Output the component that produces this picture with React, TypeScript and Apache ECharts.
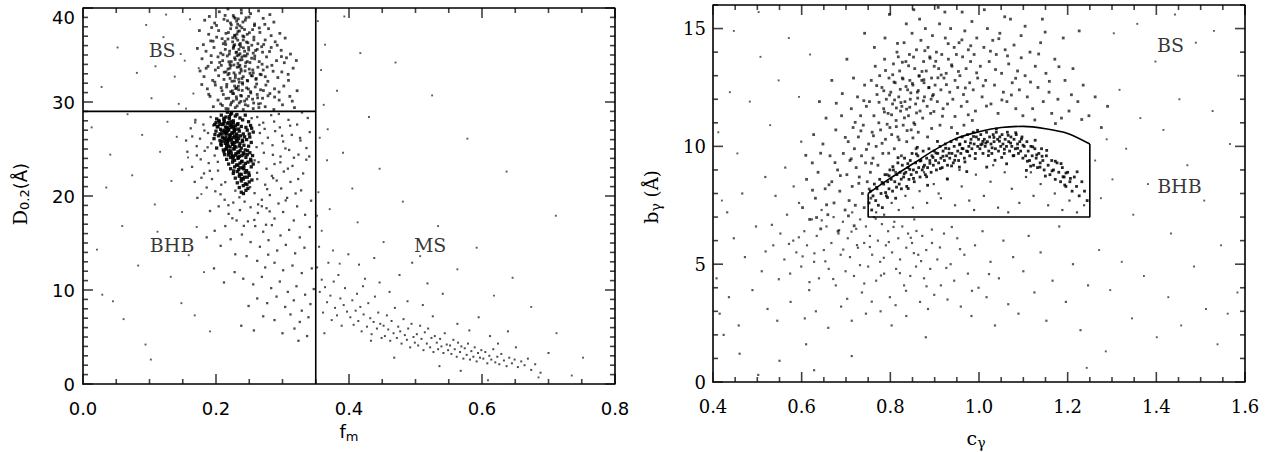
import React, { useEffect, useRef } from 'react';
import * as echarts from 'echarts';

// ---------- left panel: D0.2 against f_m ----------
const leftXTicks = [0, 0.2, 0.4, 0.6, 0.8];
const leftYTicks = [0, 10, 20, 30, 40];
const fmCut = 0.35;
const dCut = 29;

// dark BHB clump
const bhbCore = [
  [0.208,28.6],[0.215,28.4],[0.222,28.7],[0.229,28.5],[0.236,28.3],[0.244,28.6],[0.201,28.2],
  [0.205,27.9],[0.212,28.1],[0.219,27.8],[0.226,28.0],[0.233,27.7],[0.24,28.1],[0.249,27.9],[0.198,27.6],
  [0.203,27.4],[0.21,27.6],[0.216,27.3],[0.221,27.5],[0.227,27.2],[0.232,27.6],[0.238,27.4],[0.245,27.3],[0.252,27.5],
  [0.2,26.9],[0.207,27.1],[0.213,26.8],[0.218,27.0],[0.224,26.7],[0.229,27.1],[0.235,26.9],[0.241,26.6],[0.247,27.0],[0.256,26.8],
  [0.204,26.4],[0.209,26.6],[0.215,26.3],[0.22,26.5],[0.226,26.2],[0.231,26.6],[0.237,26.4],[0.243,26.3],[0.25,26.6],[0.197,26.1],
  [0.206,25.9],[0.212,26.1],[0.217,25.8],[0.223,26.0],[0.228,25.7],[0.234,26.1],[0.24,25.8],[0.246,26.0],[0.253,25.7],
  [0.208,25.4],[0.214,25.6],[0.219,25.3],[0.225,25.5],[0.23,25.2],[0.236,25.6],[0.242,25.4],[0.249,25.3],[0.201,25.1],
  [0.211,24.9],[0.216,25.1],[0.222,24.8],[0.227,25.0],[0.233,24.7],[0.238,25.1],[0.244,24.9],[0.251,24.6],
  [0.213,24.4],[0.219,24.6],[0.224,24.3],[0.23,24.5],[0.235,24.2],[0.241,24.6],[0.247,24.4],[0.255,24.3],
  [0.216,23.9],[0.222,24.1],[0.228,23.8],[0.233,24.0],[0.239,23.7],[0.245,24.1],[0.252,23.9],
  [0.219,23.4],[0.225,23.6],[0.231,23.3],[0.236,23.5],[0.242,23.2],[0.248,23.6],[0.256,23.4],
  [0.222,22.9],[0.228,23.1],[0.234,22.8],[0.24,23.0],[0.246,22.7],[0.253,23.1],
  [0.226,22.4],[0.232,22.6],[0.238,22.3],[0.244,22.5],[0.25,22.2],
  [0.229,21.9],[0.235,22.1],[0.241,21.8],[0.247,22.0],[0.254,21.7],
  [0.232,21.4],[0.238,21.6],[0.244,21.3],[0.25,21.5],
  [0.235,20.9],[0.241,21.1],[0.248,20.8],[0.238,20.4],[0.245,20.6],
  [0.211,27.7],[0.218,27.2],[0.223,27.9],[0.214,26.7],[0.221,26.2],[0.227,26.8],[0.209,25.8],[0.216,25.4],
  [0.224,25.7],[0.219,24.8],[0.226,24.2],[0.231,25.9],[0.213,27.0],[0.206,26.6],[0.225,27.4],[0.232,26.4],
  [0.22,28.2],[0.228,25.3],[0.217,26.9],[0.234,24.6],[0.239,24.3],[0.236,23.0],[0.243,22.0],[0.2,27.8],[0.212,24.7],
  [0.2143,27.34],[0.2218,26.47],[0.2087,26.93],[0.2261,27.81],[0.2176,25.62],[0.2304,26.18],[0.2229,24.57],[0.2119,28.27],[0.2352,25.31],[0.2193,27.06],
  [0.2271,25.03],[0.2058,27.62],[0.2336,24.09],[0.2245,26.71],[0.2162,26.04],[0.2387,23.64],[0.2213,25.21],[0.2291,27.47],[0.2135,25.87],[0.2418,22.88],
  [0.2202,28.43],[0.2318,25.77],[0.2254,23.92],[0.2096,26.24],[0.2363,24.81],[0.2187,24.36],[0.2279,26.39],[0.2441,23.47],[0.2124,27.91],[0.2341,27.12],
  [0.2236,27.59],[0.2156,26.66],[0.2297,24.34],[0.2398,25.94],[0.2071,25.54],[0.2266,22.67],[0.2329,23.28],[0.2205,26.12],[0.2423,24.46],[0.2148,24.98],
  [0.2381,21.87],[0.2465,21.22],[0.2413,20.26],[0.2492,22.46],[0.2356,22.31],[0.2527,23.73],[0.2474,24.82],[0.2508,26.27],[0.2536,27.21],[0.2019,27.34],
  [0.1984,26.53],[0.2043,28.04],[0.2234,28.81],[0.2314,28.66],[0.2171,28.92],[0.2257,25.49],[0.2189,25.93],[0.2278,26.96],[0.2227,27.29],[0.2168,27.74],
];

// BS cloud above the D0.2 cut
const bsCloud = [
  [0.205,39.6],[0.226,39.2],[0.238,39.8],[0.252,39.4],[0.264,39.7],[0.218,39.9],[0.281,39.3],[0.19,39.1],
  [0.198,38.4],[0.212,38.8],[0.223,38.2],[0.231,38.6],[0.236,38.1],[0.244,38.7],[0.258,38.3],[0.271,38.9],[0.287,38.5],[0.183,38.7],[0.229,38.9],
  [0.189,37.2],[0.204,37.6],[0.215,37.3],[0.222,37.8],[0.228,37.1],[0.233,37.5],[0.239,37.9],[0.247,37.2],[0.255,37.7],[0.266,37.4],[0.279,37.8],[0.296,37.3],[0.175,37.6],[0.231,37.9],
  [0.192,36.5],[0.201,36.9],[0.211,36.2],[0.218,36.7],[0.225,36.4],[0.23,36.8],[0.235,36.1],[0.241,36.6],[0.248,36.3],[0.257,36.9],[0.263,36.2],[0.274,36.6],[0.289,36.4],[0.304,36.8],[0.181,36.1],[0.227,36.0],
  [0.185,35.4],[0.197,35.8],[0.207,35.2],[0.214,35.6],[0.22,35.1],[0.226,35.7],[0.231,35.3],[0.237,35.9],[0.243,35.4],[0.249,35.8],[0.256,35.2],[0.262,35.6],[0.27,35.3],[0.283,35.8],[0.298,35.5],[0.312,35.1],[0.172,35.7],[0.234,35.0],
  [0.179,34.6],[0.193,34.2],[0.203,34.8],[0.21,34.4],[0.217,34.9],[0.223,34.3],[0.228,34.7],[0.233,34.1],[0.239,34.5],[0.245,34.9],[0.251,34.2],[0.258,34.6],[0.265,34.3],[0.276,34.8],[0.291,34.4],[0.306,34.7],[0.221,34.0],[0.247,34.3],
  [0.176,33.3],[0.188,33.8],[0.199,33.4],[0.208,33.9],[0.215,33.2],[0.221,33.6],[0.227,33.1],[0.232,33.7],[0.238,33.3],[0.244,33.8],[0.25,33.5],[0.256,33.1],[0.263,33.7],[0.271,33.4],[0.284,33.9],[0.299,33.2],[0.316,33.6],[0.236,33.9],[0.218,33.5],
  [0.182,32.7],[0.195,32.3],[0.204,32.8],[0.212,32.4],[0.218,32.9],[0.224,32.2],[0.229,32.6],[0.235,32.1],[0.241,32.7],[0.247,32.3],[0.253,32.8],[0.26,32.4],[0.268,32.9],[0.278,32.2],[0.293,32.6],[0.309,32.3],[0.239,32.5],
  [0.187,31.4],[0.199,31.8],[0.209,31.2],[0.216,31.6],[0.222,31.1],[0.228,31.7],[0.234,31.3],[0.24,31.9],[0.246,31.5],[0.252,31.1],[0.259,31.6],[0.267,31.3],[0.275,31.8],[0.288,31.4],[0.302,31.7],[0.322,31.2],[0.231,31.5],
  [0.191,30.6],[0.203,30.2],[0.211,30.8],[0.219,30.4],[0.225,30.9],[0.231,30.3],[0.237,30.7],[0.243,30.1],[0.249,30.6],[0.255,30.3],[0.262,30.8],[0.27,30.4],[0.281,30.9],[0.295,30.2],[0.311,30.6],[0.226,30.1],
  [0.196,29.5],[0.207,29.8],[0.215,29.3],[0.222,29.7],[0.229,29.4],[0.235,29.9],[0.241,29.2],[0.248,29.6],[0.256,29.3],[0.264,29.8],[0.274,29.5],[0.287,29.2],[0.3,29.7],[0.318,29.4],
  [0.2137,36.43],[0.2291,32.87],[0.2472,35.12],[0.2384,30.64],[0.2193,34.28],[0.2553,33.41],[0.2326,38.27],[0.2419,36.95],[0.2078,31.53],[0.2265,35.86],
  [0.2611,31.92],[0.2357,33.08],[0.2174,38.64],[0.2502,37.37],[0.2441,29.71],[0.2246,31.19],[0.2389,34.79],[0.2693,34.02],[0.2034,33.66],[0.2318,29.58],
  [0.2476,32.24],[0.2151,30.37],[0.2284,37.04],[0.2595,35.48],[0.2367,36.22],[0.2212,32.51],[0.2523,30.96],[0.2405,38.51],[0.2106,35.03],[0.2741,32.69],
  [0.2269,33.94],[0.2448,34.17],[0.2336,31.68],[0.2187,37.39],[0.2569,36.61],[0.2398,32.06],[0.2123,33.17],[0.2651,37.88],[0.2301,35.27],[0.2487,31.38],
  [0.2233,29.94],[0.2429,37.71],[0.2162,31.87],[0.2536,34.66],[0.2345,35.59],[0.2092,36.74],[0.2626,30.45],[0.2374,33.52],[0.2251,36.84],[0.2462,30.31],
  [0.1983,32.11],[0.2859,33.27],[0.2717,36.12],[0.1927,34.93],[0.2948,31.06],[0.2805,35.37],[0.1891,30.82],[0.3027,34.18],[0.2782,30.66],[0.1956,36.47],
  [0.2358,34.47],[0.2224,33.86],[0.2412,35.77],[0.2296,31.42],[0.2511,33.06],[0.2353,37.56],[0.2205,35.41],[0.2437,33.31],[0.2318,34.92],[0.2394,31.23],
  [0.2281,36.09],[0.2459,36.38],[0.2341,32.43],[0.2265,30.89],[0.2547,32.78],[0.2373,30.07],[0.2197,33.04],[0.2423,34.91],[0.2315,37.22],[0.2492,35.54],
  [0.2663,32.95],[0.2578,38.13],[0.2137,39.21],[0.2496,39.03],[0.2734,38.26],[0.2921,36.04],[0.3085,32.94],[0.2881,30.53],[0.2645,29.41],[0.2096,29.63],
  [0.1852,33.59],[0.1786,31.86],[0.2008,38.14],[0.2218,38.41],[0.2583,34.89],[0.2769,33.73],[0.2687,35.88],[0.2538,36.04],[0.2604,32.51],[0.2452,38.96],
  [0.2056,34.21],[0.1935,37.92],[0.2829,37.06],[0.2984,34.83],[0.2713,31.22],[0.2566,29.89],[0.2146,36.12],[0.2183,29.27],[0.3147,30.09],[0.3208,34.41],
  [0.2382,39.47],[0.2271,39.02],[0.2327,36.58],[0.2344,33.76],[0.2306,30.55],[0.2289,34.53],[0.2361,35.13],[0.2276,32.24],[0.2403,37.02],[0.2335,38.84],
];

// looser halo around the clumps and the BHB spill below
const leftHalo = [
  [0.262,28.4],[0.271,27.8],[0.283,28.6],[0.296,27.3],[0.309,28.1],[0.322,27.6],[0.338,28.3],
  [0.266,26.7],[0.278,26.2],[0.289,26.9],[0.301,25.8],[0.314,26.5],[0.327,25.9],[0.341,26.8],
  [0.261,25.2],[0.272,24.6],[0.285,25.4],[0.297,24.2],[0.31,24.9],[0.324,24.4],[0.336,25.1],
  [0.264,23.6],[0.276,22.9],[0.288,23.4],[0.302,22.6],[0.315,23.2],[0.331,22.4],
  [0.262,21.8],[0.274,21.2],[0.286,21.9],[0.298,20.8],[0.312,21.5],[0.328,20.6],
  [0.258,20.3],[0.269,19.6],[0.281,20.1],[0.294,19.2],[0.307,19.8],[0.322,18.9],[0.343,19.5],
  [0.252,18.8],[0.263,18.2],[0.276,18.7],[0.288,17.6],[0.301,18.3],[0.317,17.4],[0.334,18.0],
  [0.243,19.4],[0.236,18.5],[0.248,17.3],[0.259,16.8],[0.271,16.2],[0.284,16.9],[0.297,15.8],[0.31,16.4],[0.326,15.6],[0.341,16.7],
  [0.239,15.9],[0.252,15.1],[0.266,14.6],[0.279,15.3],[0.292,14.2],[0.305,14.8],[0.319,13.9],[0.333,14.5],
  [0.246,13.6],[0.262,13.1],[0.274,12.4],[0.288,12.9],[0.301,12.1],[0.315,12.6],[0.329,11.8],[0.344,12.3],
  [0.192,28.4],[0.181,27.6],[0.169,28.1],[0.188,26.7],[0.176,26.1],[0.162,27.2],[0.193,25.6],[0.183,24.8],[0.171,25.3],[0.155,25.9],
  [0.198,24.3],[0.189,23.5],[0.177,23.9],[0.164,23.1],[0.203,22.7],[0.194,21.8],[0.182,22.4],[0.168,21.5],[0.149,22.8],[0.208,21.2],
  [0.199,20.5],[0.186,20.9],[0.172,19.8],[0.213,19.6],[0.204,18.9],[0.191,18.4],[0.219,18.1],[0.226,19.3],[0.231,17.4],[0.214,16.8],
  [0.198,16.3],[0.222,15.4],[0.207,14.7],[0.229,13.8],[0.186,15.6],
  [0.228,11.9],[0.241,11.2],[0.256,10.6],[0.269,11.4],[0.283,10.2],[0.296,10.9],[0.308,9.8],[0.321,10.4],[0.334,9.5],[0.347,10.1],
  [0.262,9.1],[0.277,8.6],[0.291,9.3],[0.304,8.2],[0.317,8.9],[0.329,7.8],[0.342,8.5],[0.249,8.3],
  [0.271,7.2],[0.288,6.8],[0.312,7.4],[0.326,6.6],[0.339,7.1],[0.3,5.4],[0.318,5.9],[0.337,5.1],[0.324,4.6],
  [0.238,6.2],[0.257,5.7],[0.212,10.8],[0.197,12.3],
  [0.2731,27.14],[0.2856,24.38],[0.2618,22.47],[0.2994,26.41],[0.3172,24.07],[0.2769,20.73],[0.3081,22.91],[0.2652,27.56],[0.2913,21.64],[0.3264,26.18],
  [0.2807,18.36],[0.2581,23.79],[0.3048,19.53],[0.2697,25.61],[0.3197,20.27],[0.2874,27.92],[0.2634,19.11],[0.2968,23.58],[0.3358,23.86],[0.2752,16.94],
  [0.1826,26.97],[0.1712,24.32],[0.1907,22.68],[0.1643,26.34],[0.1958,27.51],[0.1781,21.94],[0.1569,24.71],[0.1874,25.18],[0.2027,23.63],[0.1687,27.83],
  [0.2139,21.47],[0.2068,20.18],[0.2291,20.57],[0.2187,19.02],[0.2352,19.86],[0.2246,17.63],[0.2419,16.82],[0.2513,20.94],[0.2576,17.45],[0.2689,18.91],
  [0.2841,22.14],[0.3115,27.48],[0.2945,28.73],[0.3293,28.89],[0.3402,24.21],[0.2536,28.28],[0.2673,29.85],[0.3044,25.06],[0.3236,21.81],[0.2785,13.76],
];

// isolated stars
const leftField = [
  [0.013,27.3],[0.028,31.6],[0.041,24.4],[0.035,20.9],[0.052,35.8],[0.067,28.7],[0.074,22.2],[0.081,33.1],[0.089,26.5],[0.095,38.2],
  [0.103,30.4],[0.108,19.1],[0.116,24.7],[0.121,36.9],[0.127,27.9],[0.133,21.6],[0.138,32.7],[0.144,29.8],[0.149,18.3],[0.153,34.4],
  [0.158,24.1],[0.161,38.8],[0.166,30.9],[0.171,16.7],[0.174,33.6],[0.178,20.2],[0.045,8.8],[0.029,9.5],[0.061,6.9],[0.083,12.6],
  [0.094,4.2],[0.112,16.2],[0.132,11.4],[0.148,8.6],[0.159,13.7],[0.168,7.3],[0.182,11.9],[0.191,5.6],[0.059,16.8],[0.021,14.3],
  [0.102,2.6],[0.155,29.3],[0.147,35.1],[0.125,39.3],[0.109,33.8],[0.141,26.3],
  [0.353,38.6],[0.358,33.4],[0.362,29.7],[0.356,26.2],[0.367,23.8],[0.354,20.4],[0.371,18.6],[0.359,16.3],[0.376,14.2],[0.364,36.1],
  [0.382,31.2],[0.352,17.9],[0.368,27.1],[0.391,24.6],[0.405,20.8],[0.417,35.2],[0.43,28.4],[0.386,12.8],
  [0.413,17.2],[0.452,15.1],[0.481,19.4],[0.507,13.6],[0.534,16.8],[0.563,12.2],[0.592,14.5],[0.618,9.4],[0.646,11.3],[0.674,8.2],
  [0.712,5.4],[0.735,0.9],[0.752,2.8],[0.711,17.9],[0.637,22.6],[0.578,26.1],[0.525,30.7],[0.47,34.2],[0.446,22.9],[0.393,39.1],
  [0.685,0.7],[0.609,0.4],
];

// main-sequence tail
const msTail = [
  [0.352,12.4],[0.356,9.8],[0.359,11.1],[0.361,7.6],[0.364,10.3],[0.367,8.7],[0.369,12.9],[0.372,9.4],[0.374,6.8],[0.377,10.9],
  [0.379,8.1],[0.382,7.3],[0.384,11.6],[0.387,9.1],[0.389,6.2],[0.392,8.4],[0.394,10.2],[0.397,7.7],[0.399,13.8],[0.355,14.6],[0.363,5.4],
  [0.402,7.1],[0.405,8.9],[0.407,6.3],[0.41,7.8],[0.412,9.6],[0.414,6.7],[0.417,8.2],[0.419,5.6],[0.422,7.4],[0.424,11.2],
  [0.427,6.1],[0.429,8.6],[0.432,7.0],[0.434,5.3],[0.437,6.6],[0.439,9.3],[0.442,5.9],[0.444,7.6],[0.447,6.4],[0.449,4.9],
  [0.415,12.7],[0.438,13.4],[0.421,10.4],[0.446,10.8],[0.433,4.6],
  [0.452,6.2],[0.454,5.1],[0.457,7.3],[0.459,5.8],[0.462,4.6],[0.464,6.7],[0.467,5.4],[0.469,8.1],[0.472,4.9],[0.474,6.1],
  [0.477,5.6],[0.479,4.3],[0.482,6.9],[0.484,5.2],[0.487,4.7],[0.489,5.9],[0.492,3.9],[0.494,6.4],[0.497,5.0],[0.499,4.4],
  [0.461,9.8],[0.476,11.6],[0.488,8.8],[0.495,12.9],[0.468,2.8],
  [0.502,5.3],[0.504,4.1],[0.507,6.2],[0.509,4.8],[0.512,3.6],[0.514,5.5],[0.517,4.3],[0.519,5.9],[0.522,3.9],[0.524,4.9],
  [0.527,3.4],[0.529,5.1],[0.532,4.4],[0.534,3.7],[0.537,4.8],[0.539,4.0],[0.542,3.3],[0.544,5.4],[0.547,4.2],[0.549,3.6],
  [0.511,8.4],[0.526,7.2],[0.541,9.6],[0.518,10.7],[0.536,1.9],
  [0.552,4.1],[0.554,3.2],[0.557,4.7],[0.559,3.7],[0.562,2.9],[0.564,4.4],[0.567,3.4],[0.569,4.0],[0.572,2.7],[0.574,3.8],
  [0.577,3.1],[0.579,4.3],[0.582,2.6],[0.584,3.5],[0.587,2.9],[0.589,3.9],[0.592,2.4],[0.594,3.3],[0.597,2.8],[0.599,3.6],
  [0.563,6.4],[0.581,5.7],[0.568,1.4],[0.595,7.1],
  [0.602,2.7],[0.605,3.4],[0.608,2.2],[0.611,3.0],[0.614,2.6],[0.617,3.7],[0.62,2.3],[0.623,2.9],[0.626,2.1],[0.629,3.2],
  [0.633,2.5],[0.637,1.9],[0.641,2.8],[0.645,2.2],[0.649,2.6],[0.654,1.8],[0.659,2.4],[0.664,2.0],[0.669,2.7],[0.674,1.5],
  [0.68,2.1],[0.612,5.1],[0.624,4.3],[0.639,5.6],[0.651,3.9],[0.688,1.2],[0.7,3.3],
];

const leftTags = [
  { name: 'BS', value: [0.119, 35.5] },
  { name: 'BHB', value: [0.134, 14.8] },
  { name: 'MS', value: [0.522, 14.8] },
];

// ---------- right panel: b_gamma against c_gamma ----------
const rightXTicks = [0.4, 0.6, 0.8, 1.0, 1.2, 1.4, 1.6];
const rightYTicks = [0, 5, 10, 15];
const rightYMax = 16;

// broad BS band
const bsBand = [
  [0.602,7.4],[0.611,8.6],[0.618,6.9],[0.624,9.3],[0.631,7.8],[0.637,8.9],[0.643,6.5],[0.648,10.1],[0.653,8.2],[0.659,7.1],
  [0.664,9.6],[0.668,8.5],[0.673,7.6],[0.677,10.7],[0.681,9.0],[0.686,8.1],[0.69,11.3],[0.694,9.7],[0.698,7.3],[0.655,11.2],[0.627,10.5],[0.682,6.4],
  [0.702,8.8],[0.705,10.2],[0.707,7.7],[0.709,9.4],[0.712,11.6],[0.714,8.3],[0.716,10.8],[0.719,9.9],[0.721,7.5],[0.723,9.1],
  [0.726,12.1],[0.728,10.4],[0.73,8.7],[0.733,11.3],[0.735,9.6],[0.737,8.0],[0.739,10.9],[0.742,12.6],[0.744,9.3],[0.746,11.7],[0.748,8.5],[0.717,12.9],[0.741,7.4],
  [0.751,10.1],[0.753,11.9],[0.755,8.9],[0.757,12.8],[0.759,10.6],[0.761,9.5],[0.763,11.3],[0.766,13.4],[0.768,10.0],[0.77,12.2],
  [0.772,9.2],[0.774,11.0],[0.776,13.0],[0.778,10.7],[0.781,12.5],[0.783,9.7],[0.785,11.6],[0.787,13.7],[0.789,10.3],[0.791,12.0],
  [0.793,8.8],[0.795,11.4],[0.797,12.9],[0.799,10.8],[0.764,14.2],[0.788,14.6],[0.756,7.8],
  [0.801,12.3],[0.803,10.5],[0.805,11.8],[0.807,13.5],[0.809,9.9],[0.811,12.7],[0.813,11.1],[0.815,14.0],[0.817,10.4],[0.819,12.1],
  [0.821,13.2],[0.823,11.5],[0.825,9.6],[0.827,12.9],[0.829,10.9],[0.831,14.4],[0.833,11.9],[0.835,13.6],[0.837,10.2],[0.839,12.4],
  [0.841,11.3],[0.843,13.9],[0.845,12.0],[0.847,10.7],[0.849,14.8],[0.812,8.9],[0.836,15.2],[0.826,11.7],[0.844,12.8],[0.818,13.8],
  [0.851,12.6],[0.853,11.0],[0.855,13.3],[0.857,11.8],[0.859,14.1],[0.861,12.3],[0.863,10.6],[0.865,13.0],[0.867,11.5],[0.869,14.5],
  [0.871,12.8],[0.873,11.2],[0.875,13.6],[0.877,12.1],[0.879,15.0],[0.881,13.2],[0.883,11.7],[0.885,14.2],[0.887,12.5],[0.889,13.8],
  [0.891,11.4],[0.893,12.9],[0.895,14.7],[0.897,12.2],[0.899,13.4],[0.858,9.9],[0.884,10.4],[0.866,15.4],[0.876,12.7],[0.892,12.0],
  [0.901,12.6],[0.904,14.0],[0.906,11.9],[0.909,13.3],[0.911,15.2],[0.914,12.4],[0.916,13.9],[0.919,11.6],[0.921,12.9],[0.924,14.6],
  [0.926,13.1],[0.929,11.8],[0.931,13.7],[0.934,12.3],[0.936,15.0],[0.939,13.4],[0.941,12.0],[0.944,14.2],[0.946,12.8],[0.949,13.9],
  [0.912,10.9],[0.938,10.8],[0.923,15.7],
  [0.952,12.5],[0.955,14.4],[0.957,13.0],[0.96,11.7],[0.963,13.8],[0.965,12.2],[0.968,14.9],[0.971,13.3],[0.973,11.9],[0.976,14.1],
  [0.979,12.7],[0.981,13.6],[0.984,15.3],[0.987,12.4],[0.989,13.9],[0.992,11.5],[0.995,14.6],[0.997,12.9],[0.966,10.9],[0.985,11.1],
  [1.003,13.4],[1.007,12.1],[1.011,14.2],[1.015,12.8],[1.019,15.0],[1.023,13.6],[1.027,11.8],[1.031,14.5],[1.035,12.6],[1.039,13.9],
  [1.043,11.4],[1.047,14.8],[1.051,13.1],[1.055,12.3],[1.059,14.1],[1.063,11.9],[1.067,13.5],[1.071,15.4],[1.075,12.7],[1.079,14.3],
  [1.083,11.6],[1.087,13.2],[1.091,12.4],[1.095,14.7],[1.099,11.3],
  [1.104,13.0],[1.109,12.1],[1.115,14.0],[1.121,11.6],[1.127,13.4],[1.133,12.5],[1.139,14.4],[1.145,11.9],[1.151,13.1],[1.158,12.3],
  [1.164,11.4],[1.171,13.7],[1.178,12.0],[1.186,11.2],[1.194,12.8],[1.203,11.5],[1.212,13.3],[1.223,11.9],[1.235,12.6],[1.248,11.3],
  [1.262,12.1],[1.276,10.8],[1.29,11.7],
  [0.742,14.8],[0.798,15.6],[0.853,15.8],[0.908,15.9],[0.962,15.7],[1.012,15.8],[1.058,15.5],[1.104,15.1],[1.143,15.4],[1.19,14.6],
  [1.226,14.9],[0.702,13.7],[0.668,12.8],[0.64,11.9],
  [0.8137,11.63],[0.8462,12.27],[0.7928,10.94],[0.8714,13.18],[0.8286,12.86],[0.8591,11.42],[0.7745,11.87],[0.8869,12.49],[0.8053,13.04],[0.8378,10.67],
  [0.9024,13.61],[0.7852,12.36],[0.8523,13.79],[0.8197,10.28],[0.8746,11.93],[0.7619,10.45],[0.8951,12.14],[0.8318,11.21],[0.8083,12.73],[0.8648,12.98],
  [0.7963,9.71],[0.9147,13.03],[0.8412,13.42],[0.7814,10.13],[0.8779,14.06],[0.8239,11.86],[0.8552,10.93],[0.7692,12.58],[0.9265,12.62],[0.8028,11.34],
  [0.8896,13.74],[0.8354,12.54],[0.7891,13.22],[0.8617,12.05],[0.8162,14.37],[0.9382,13.46],[0.7576,9.28],[0.8437,11.66],[0.8983,11.48],[0.8271,13.57],
  [0.7336,10.66],[0.7461,9.87],[0.7207,11.02],[0.7118,9.47],[0.6984,10.38],[0.6873,8.76],[0.7289,8.43],[0.7523,8.19],[0.6752,9.31],[0.7402,11.94],
  [0.9536,13.18],[0.9692,12.48],[0.9813,14.27],[0.9947,13.12],[1.0094,12.57],[1.0258,14.04],[1.0372,13.26],[1.0516,11.97],[1.0643,13.84],[1.0827,12.89],
  [0.9614,14.52],[0.9758,11.34],[1.0168,11.71],[1.0447,14.57],[1.0731,12.18],[0.9459,11.27],[0.9305,14.36],[0.9176,11.28],[0.9073,12.91],[0.8932,10.76],
  [0.8095,11.97],[0.8224,12.42],[0.8367,11.58],[0.8498,12.67],[0.8631,12.37],[0.8756,12.83],[0.7983,12.18],[0.8135,10.84],[0.7866,11.46],[0.8509,10.36],
  [0.6617,8.37],[0.6428,9.71],[0.6245,8.14],[0.6781,11.83],[0.6093,9.62],[0.6336,6.98],[0.6562,7.52],[0.7055,7.05],[0.7184,6.63],[0.6917,12.24],
  [1.1162,12.73],[1.1346,13.92],[1.1587,12.76],[1.1803,13.38],[1.2085,12.19],[1.1259,11.12],[1.1724,10.97],[1.2317,11.14],[1.1492,14.85],[1.0953,13.76],
];

// narrow BHB arc inside the selection box
const bhbArc = [
  [0.752,7.6],[0.755,8.1],[0.758,7.3],[0.761,7.9],[0.764,8.4],[0.767,7.7],[0.77,8.2],[0.773,7.5],[0.776,8.6],[0.779,8.0],
  [0.782,7.4],[0.785,8.4],[0.788,8.8],[0.791,7.9],[0.794,8.5],[0.797,8.2],[0.799,9.0],
  [0.802,8.6],[0.805,8.1],[0.807,9.0],[0.81,8.5],[0.812,7.8],[0.815,8.8],[0.817,9.3],[0.82,8.4],[0.822,8.9],[0.825,8.2],
  [0.827,9.2],[0.83,8.7],[0.832,9.5],[0.835,8.9],[0.837,8.3],[0.84,9.1],[0.842,8.6],[0.845,9.4],[0.847,8.8],[0.849,9.7],
  [0.852,9.0],[0.854,8.5],[0.857,9.3],[0.859,8.9],[0.862,9.6],[0.864,9.1],[0.867,8.7],[0.869,9.4],[0.872,9.0],[0.874,9.8],
  [0.877,9.2],[0.879,8.8],[0.882,9.5],[0.884,9.1],[0.887,9.9],[0.889,9.4],[0.892,8.9],[0.894,9.6],[0.897,9.2],[0.899,9.8],
  [0.902,9.4],[0.904,9.0],[0.907,9.7],[0.909,9.3],[0.912,10.0],[0.914,9.5],[0.917,9.1],[0.919,9.8],[0.922,9.4],[0.924,10.1],
  [0.927,9.6],[0.929,9.2],[0.932,9.9],[0.934,9.5],[0.937,10.2],[0.939,9.7],[0.942,9.3],[0.944,10.0],[0.947,9.6],[0.949,10.3],
  [0.952,9.8],[0.954,9.4],[0.957,10.1],[0.959,9.7],[0.962,10.4],[0.964,9.9],[0.967,9.5],[0.969,10.2],[0.972,9.8],[0.974,10.5],
  [0.977,10.0],[0.979,9.6],[0.982,10.3],[0.984,9.9],[0.987,10.6],[0.989,10.1],[0.992,9.7],[0.994,10.4],[0.997,10.0],[0.999,10.3],
  [1.002,9.9],[1.004,10.5],[1.007,10.1],[1.009,9.7],[1.012,10.3],[1.014,10.0],[1.017,10.6],[1.019,10.2],[1.022,9.8],[1.024,10.4],
  [1.027,10.1],[1.029,9.7],[1.032,10.5],[1.034,10.2],[1.037,9.9],[1.039,10.6],[1.042,10.3],[1.044,9.8],[1.047,10.4],[1.049,10.0],
  [1.052,10.5],[1.054,10.1],[1.057,9.7],[1.059,10.3],[1.062,10.0],[1.064,10.6],[1.067,10.2],[1.069,9.8],[1.072,10.4],[1.074,10.0],
  [1.077,9.6],[1.079,10.3],[1.082,9.9],[1.084,10.5],[1.087,10.1],[1.089,9.7],[1.092,10.2],[1.094,9.8],[1.097,10.4],[1.099,9.5],
  [1.102,10.0],[1.105,9.6],[1.108,10.2],[1.111,9.8],[1.114,9.4],[1.117,10.0],[1.12,9.6],[1.123,9.2],[1.126,9.9],[1.129,9.5],
  [1.132,9.1],[1.135,9.7],[1.138,9.3],[1.141,9.9],[1.144,9.4],[1.147,9.0],
  [1.152,9.6],[1.156,9.2],[1.16,8.8],[1.164,9.4],[1.168,9.0],[1.172,8.6],[1.176,9.3],[1.18,8.9],[1.184,8.5],[1.188,9.1],
  [1.192,8.7],[1.196,8.3],[1.2,8.9],[1.205,8.5],[1.21,8.1],[1.215,8.7],[1.22,8.3],[1.226,7.9],[1.232,8.5],[1.238,8.1],[1.244,7.7],
  [0.7813,8.47],[0.8246,8.61],[0.8671,9.38],[0.9128,9.06],[0.9563,10.07],[0.9914,9.48],[1.0337,10.38],[1.0785,9.61],[1.1213,9.98],[1.1648,8.96],
  [0.7936,7.83],[0.8394,9.27],[0.8819,8.71],[0.9246,9.92],[0.9682,9.34],[1.0086,10.21],[1.0512,9.53],[1.0957,10.31],[1.1376,9.12],[1.1851,9.27],
  [0.8057,9.14],[0.8523,8.64],[0.8962,9.53],[0.9381,9.17],[0.9807,10.14],[1.0213,9.61],[1.0658,10.47],[1.1092,9.37],[1.1527,9.83],[1.2062,8.64],
  [0.7689,8.26],[0.8139,8.27],[0.8587,9.68],[0.9031,9.72],[0.9452,9.41],[0.9876,10.42],[1.0296,9.94],[1.0714,10.14],[1.1164,9.16],[1.1962,8.87],
  [0.8312,8.84],[0.8746,9.12],[0.9187,9.58],[0.9618,9.91],[1.0041,10.07],[1.0461,10.22],[1.0872,9.92],[1.1302,9.64],[1.1721,9.37],[1.2213,8.92],
  [0.7972,8.75],[0.8438,9.02],[0.8893,9.28],[0.9327,9.71],[0.9745,9.78],[1.0153,10.14],[1.0573,9.88],[1.0994,10.05],[1.1423,9.58],[1.1896,8.71],
  [0.8174,9.52],[0.8608,9.96],[0.9063,10.21],[0.9512,10.55],[0.9967,10.68],[1.0392,10.74],[1.0829,10.58],[1.1267,10.26],[0.8841,8.35],[0.9285,8.62],
  [0.9724,8.93],[1.0174,9.12],[1.0623,9.26],[1.1069,8.98],[1.1497,8.74],[1.1934,8.36],[0.8402,8.21],[0.7894,8.04],[0.9558,9.12],[1.0361,9.41],
];

// thinner spread below the arc, inside the box
const boxFill = [
  [0.768,7.2],[0.786,7.1],[0.803,7.6],[0.819,7.3],[0.834,7.9],[0.851,7.4],[0.866,8.1],[0.883,7.6],[0.898,8.4],[0.914,7.8],
  [0.929,8.6],[0.946,7.5],[0.961,8.3],[0.978,7.7],[0.993,8.8],[1.011,7.9],[1.026,8.5],[1.043,7.4],[1.058,8.9],[1.074,8.2],
  [1.091,7.6],[1.106,8.7],[1.123,7.9],[1.139,8.4],[1.156,7.5],[1.171,8.0],[1.188,7.3],[1.204,7.7],[1.221,7.2],[1.237,7.5],
  [0.876,8.9],[0.956,9.0],[1.032,9.2],[1.117,8.9],[0.909,8.0],[0.989,7.3],[1.066,7.2],
];

// diffuse cloud under the box
const lowerCloud = [
  [0.552,6.3],[0.561,5.2],[0.567,7.1],[0.574,4.6],[0.581,6.0],[0.588,5.5],[0.594,7.6],[0.599,4.9],[0.606,6.4],[0.612,5.8],
  [0.617,3.9],[0.623,6.9],[0.628,5.1],[0.634,6.2],[0.639,4.4],[0.645,7.3],[0.65,5.6],[0.656,6.6],[0.661,4.8],[0.667,5.9],
  [0.672,7.0],[0.677,4.1],[0.683,6.3],[0.688,5.4],[0.693,6.8],[0.699,4.7],
  [0.704,6.1],[0.709,5.3],[0.714,7.2],[0.718,4.5],[0.723,6.5],[0.727,5.7],[0.732,6.9],[0.736,3.8],[0.741,5.9],[0.745,6.6],
  [0.75,4.9],[0.754,6.2],[0.759,5.4],[0.763,7.0],[0.768,4.3],[0.772,6.0],[0.777,5.1],[0.781,6.7],[0.786,4.6],[0.79,5.8],
  [0.795,6.4],[0.799,3.6],
  [0.804,5.5],[0.809,6.8],[0.813,4.8],[0.818,6.1],[0.822,5.2],[0.827,6.6],[0.831,4.1],[0.836,5.7],[0.84,6.3],[0.845,4.5],
  [0.849,5.9],[0.854,6.9],[0.858,4.9],[0.863,5.4],[0.867,3.4],[0.872,6.2],[0.876,4.4],[0.881,5.6],[0.885,3.1],[0.89,4.8],
  [0.894,5.9],[0.899,3.7],
  [0.906,5.2],[0.914,4.1],[0.921,6.3],[0.929,3.5],[0.936,5.0],[0.944,4.3],[0.951,6.1],[0.959,3.2],[0.967,5.4],[0.975,4.6],
  [0.983,2.8],[0.991,5.8],[0.999,4.0],[1.008,6.4],[1.017,3.6],[1.026,5.1],[1.036,2.4],[1.045,4.4],[1.055,6.0],[1.066,3.3],
  [1.077,5.3],[1.089,2.9],[1.1,4.7],[1.112,6.2],[1.125,3.8],[1.139,5.5],[1.152,2.6],[1.166,4.3],[1.181,6.6],[1.196,3.4],
  [1.212,5.0],[1.229,2.2],[1.246,4.1],
  [0.51,4.7],[0.523,3.1],[0.536,5.8],[0.545,2.6],[0.489,3.9],[0.472,5.3],[0.458,2.4],[0.447,6.1],[0.436,3.6],[0.424,2.0],
  [0.415,2.9],[0.408,4.4],[0.432,7.2],[0.466,8.0],[0.497,6.6],[0.518,8.7],[0.541,7.9],[0.563,9.1],[0.582,8.3],[0.599,10.2],
  [0.575,3.4],[0.607,2.7],[0.632,3.0],[0.66,2.3],[0.689,3.2],[0.713,2.6],[0.745,2.9],[0.778,3.0],[0.803,2.4],[0.836,2.8],
  [0.88,1.9],[0.61,1.6],[0.713,1.1],[0.55,0.9],[0.628,0.5],[0.46,1.2],[0.502,0.3],
  [0.6287,5.46],[0.7124,6.38],[0.7853,5.27],[0.8461,6.12],[0.6712,4.37],[0.7539,5.73],[0.8216,4.62],[0.8937,6.47],[0.6453,6.86],[0.7316,4.96],
  [0.8072,6.58],[0.8694,5.13],[0.5936,6.14],[0.6938,5.62],[0.7671,6.93],[0.8354,3.87],[0.9118,5.71],[0.6176,4.24],[0.7412,4.18],[0.8589,6.41],
  [0.7027,3.53],[0.7789,4.52],[0.6534,5.12],[0.9263,4.84],[0.8816,4.06],[0.7248,5.81],[0.6021,5.33],[0.7966,5.94],[0.8531,5.47],[0.9387,6.58],
  [0.5714,5.86],[0.5485,4.36],[0.5328,6.67],[0.5187,5.54],[0.6845,6.44],[0.7581,3.41],[0.8119,3.26],[0.9572,5.64],[0.9841,3.87],[1.0226,4.58],
];

const rightField = [
  [1.262,9.4],[1.275,7.8],[1.288,10.3],[1.301,8.6],[1.317,12.4],[1.332,9.9],[1.348,7.1],[1.364,11.2],[1.381,8.4],[1.398,13.6],
  [1.416,10.7],[1.433,6.3],[1.452,12.0],[1.47,9.2],[1.489,14.4],[1.508,7.7],[1.527,11.5],[1.546,5.8],[1.566,10.1],[1.585,13.0],
  [1.271,5.6],[1.296,3.9],[1.322,5.1],[1.345,2.7],[1.372,4.5],[1.401,1.9],[1.427,3.6],[1.456,2.4],[1.485,4.9],[1.512,3.1],
  [1.538,1.6],[1.561,2.9],[1.583,3.8],[1.304,14.8],[1.357,15.2],[1.442,15.6],[1.53,14.9],[1.286,1.3],[1.243,0.6],
  [0.412,10.6],[0.438,12.3],[0.455,9.7],[0.483,11.9],[0.507,13.8],[0.529,10.9],[0.548,12.8],[0.571,14.6],[0.594,12.1],[0.619,13.9],
  [0.447,14.9],[0.503,15.7],[0.42,7.7],
];

// BHB selection box: curved top and straight sides
const boxCurve = [
  [0.75,8.0],[0.8,8.65],[0.85,9.25],[0.9,9.85],[0.95,10.35],[1.0,10.62],
  [1.05,10.8],[1.1,10.85],[1.15,10.75],[1.2,10.55],[1.25,10.1],
];
const boxSides = [[1.25,10.1],[1.25,7.0],[0.75,7.0],[0.75,8.0]];

const rightTags = [
  { name: 'BS', value: [1.432, 14.3] },
  { name: 'BHB', value: [1.452, 8.31] },
];

const INK = '#000';
const sans = 'DejaVu Sans';
const serif = 'DejaVu Serif';

// inward tick marks for all four sides, as rect symbols placed on the axes' values
const frameTickItems = (xTicks: number[], xMinor: number, xMax: number, yTicks: number[], yMinor: number, yMax: number) => {
  const W = 1.6;
  const items: any[] = [];
  const xStep = (xTicks[1] - xTicks[0]) / xMinor;
  for (let i = 0; xTicks[0] + i * xStep <= xMax + 1e-9; i++) {
    const v = xTicks[0] + i * xStep;
    const len = i % xMinor === 0 ? 10 : 5;
    items.push({ value: [v, yTicks[0]], symbolSize: [W, len], symbolOffset: [0, -len / 2] });
    items.push({ value: [v, yMax], symbolSize: [W, len], symbolOffset: [0, len / 2] });
  }
  const yStep = (yTicks[1] - yTicks[0]) / yMinor;
  for (let i = 0; yTicks[0] + i * yStep <= yMax + 1e-9; i++) {
    const v = yTicks[0] + i * yStep;
    const len = i % yMinor === 0 ? 10 : 5;
    items.push({ value: [xTicks[0], v], symbolSize: [len, W], symbolOffset: [len / 2, 0] });
    items.push({ value: [xMax, v], symbolSize: [len, W], symbolOffset: [-len / 2, 0] });
  }
  return items;
};

const App: React.FC = () => {
  const chartRef = useRef<HTMLDivElement>(null);

  useEffect(() => {
    const chart = echarts.init(chartRef.current, null, { renderer: 'svg' });

    const frame = { show: true, onZero: false, lineStyle: { color: INK, width: 1.6 } };

    // one axis per side of each panel; top and right edges come from a frame series
    const axis = (grid: number, ticks: number[], max: number, label: any) => ({
      type: 'value', gridIndex: grid,
      min: ticks[0], max, interval: ticks[1] - ticks[0],
      axisLine: frame,
      axisTick: { show: false },
      splitLine: { show: false },
      axisLabel: label,
    });

    const lab = (family: string, fmt: (v: number) => string, margin: number) => ({
      show: true, color: INK, fontFamily: family, fontSize: 18, margin, formatter: fmt,
    });

    const leftXMax = leftXTicks[leftXTicks.length - 1];
    const leftYMax = leftYTicks[leftYTicks.length - 1];
    const rightXMax = rightXTicks[rightXTicks.length - 1];

    const dots = (data: number[][], xi: number, yi: number, size: number, opacity: number) => ({
      type: 'scatter', xAxisIndex: xi, yAxisIndex: yi, data,
      symbol: 'rect', symbolSize: size, silent: true,
      itemStyle: { color: INK, opacity },
    });
    const rule = (data: number[][], xi: number, yi: number, smooth = 0) => ({
      type: 'line', xAxisIndex: xi, yAxisIndex: yi, data, smooth,
      symbol: 'none', silent: true, clip: false,
      lineStyle: { color: INK, width: 1.6 },
    });
    const tags = (data: any[], xi: number, yi: number) => ({
      type: 'scatter', xAxisIndex: xi, yAxisIndex: yi, data,
      symbolSize: 0, silent: true,
      label: { show: true, position: 'inside', formatter: '{b}', color: INK, fontFamily: serif, fontSize: 19 },
    });
    const tickMarks = (data: any[], xi: number, yi: number) => ({
      type: 'scatter', xAxisIndex: xi, yAxisIndex: yi, data,
      symbol: 'rect', clip: false,
      itemStyle: { color: '#111' },
    });

    chart.setOption({
      animation: false,
      grid: [
        { left: 83, top: 8, width: 532, height: 376 },
        { left: 713, top: 5, width: 532, height: 377 },
      ],
      xAxis: [
        axis(0, leftXTicks, leftXMax, lab(sans, (v) => v.toFixed(1), 15)),
        axis(1, rightXTicks, rightXMax, lab(serif, (v) => v.toFixed(1), 15)),
      ],
      yAxis: [
        axis(0, leftYTicks, leftYMax, { ...lab(sans, (v) => String(v), 8), verticalAlignMaxLabel: 'top' }),
        axis(1, rightYTicks, rightYMax, { ...lab(serif, (v) => String(v), 7), showMaxLabel: false }),
      ],
      graphic: [
        {
          type: 'text', x: 20, y: 194, rotation: Math.PI / 2,
          style: {
            text: '{d|D}{s|0.2}{p|(Å)}', align: 'center', verticalAlign: 'middle',
            rich: {
              d: { fontFamily: serif, fontSize: 19, fill: INK },
              s: { fontFamily: sans, fontSize: 13, fill: INK, padding: [9, 0, 0, 0] },
              p: { fontFamily: sans, fontSize: 18, fill: INK },
            },
          },
        },
        {
          type: 'text', x: 349, y: 431,
          style: {
            text: '{f|f}{s|m}', align: 'center', verticalAlign: 'middle',
            rich: {
              f: { fontFamily: sans, fontSize: 18, fill: INK },
              s: { fontFamily: sans, fontSize: 13, fill: INK, padding: [10, 0, 0, 0] },
            },
          },
        },
        {
          type: 'text', x: 651, y: 197, rotation: Math.PI / 2,
          style: {
            text: '{b|b}{s|γ}{p| (Å)}', align: 'center', verticalAlign: 'middle',
            rich: {
              b: { fontFamily: serif, fontSize: 19, fill: INK },
              s: { fontFamily: serif, fontSize: 14, fill: INK, padding: [10, 0, 0, 0] },
              p: { fontFamily: serif, fontSize: 18, fill: INK },
            },
          },
        },
        {
          type: 'text', x: 976, y: 438,
          style: {
            text: '{c|c}{s|γ}', align: 'center', verticalAlign: 'middle',
            rich: {
              c: { fontFamily: serif, fontSize: 19, fill: INK },
              s: { fontFamily: serif, fontSize: 14, fill: INK, padding: [10, 0, 0, 0] },
            },
          },
        },
      ],
      series: [
        tickMarks(frameTickItems(leftXTicks, 4, leftXMax, leftYTicks, 10, leftYMax), 0, 0),
        tickMarks(frameTickItems(rightXTicks, 4, rightXMax, rightYTicks, 5, rightYMax), 1, 1),
        rule([[leftXTicks[0], leftYMax], [leftXMax, leftYMax], [leftXMax, leftYTicks[0]]], 0, 0),
        rule([[rightXTicks[0], rightYMax], [rightXMax, rightYMax], [rightXMax, rightYTicks[0]]], 1, 1),

        dots(leftField, 0, 0, 1.9, 0.65),
        dots(leftHalo, 0, 0, 2.3, 0.7),
        dots(msTail, 0, 0, 2.0, 0.7),
        dots(bsCloud, 0, 0, 2.8, 0.72),
        dots(bhbCore, 0, 0, 3.3, 0.9),
        rule([[fmCut, leftYTicks[0]], [fmCut, leftYMax]], 0, 0),
        rule([[leftXTicks[0], dCut], [fmCut, dCut]], 0, 0),
        tags(leftTags, 0, 0),

        dots(rightField, 1, 1, 1.9, 0.65),
        dots(lowerCloud, 1, 1, 2.2, 0.65),
        dots(boxFill, 1, 1, 2.2, 0.7),
        dots(bsBand, 1, 1, 2.8, 0.7),
        dots(bhbArc, 1, 1, 2.8, 0.85),
        rule(boxCurve, 1, 1, 0.3),
        rule(boxSides, 1, 1),
        tags(rightTags, 1, 1),
      ],
    });

    return () => {
      chart.dispose();
    };
  }, []);

  return (
    <div
      ref={chartRef}
      style={{ position: 'fixed', left: 0, top: 0, width: 1278, height: 452, background: '#fff' }}
    />
  );
};

export default App;
